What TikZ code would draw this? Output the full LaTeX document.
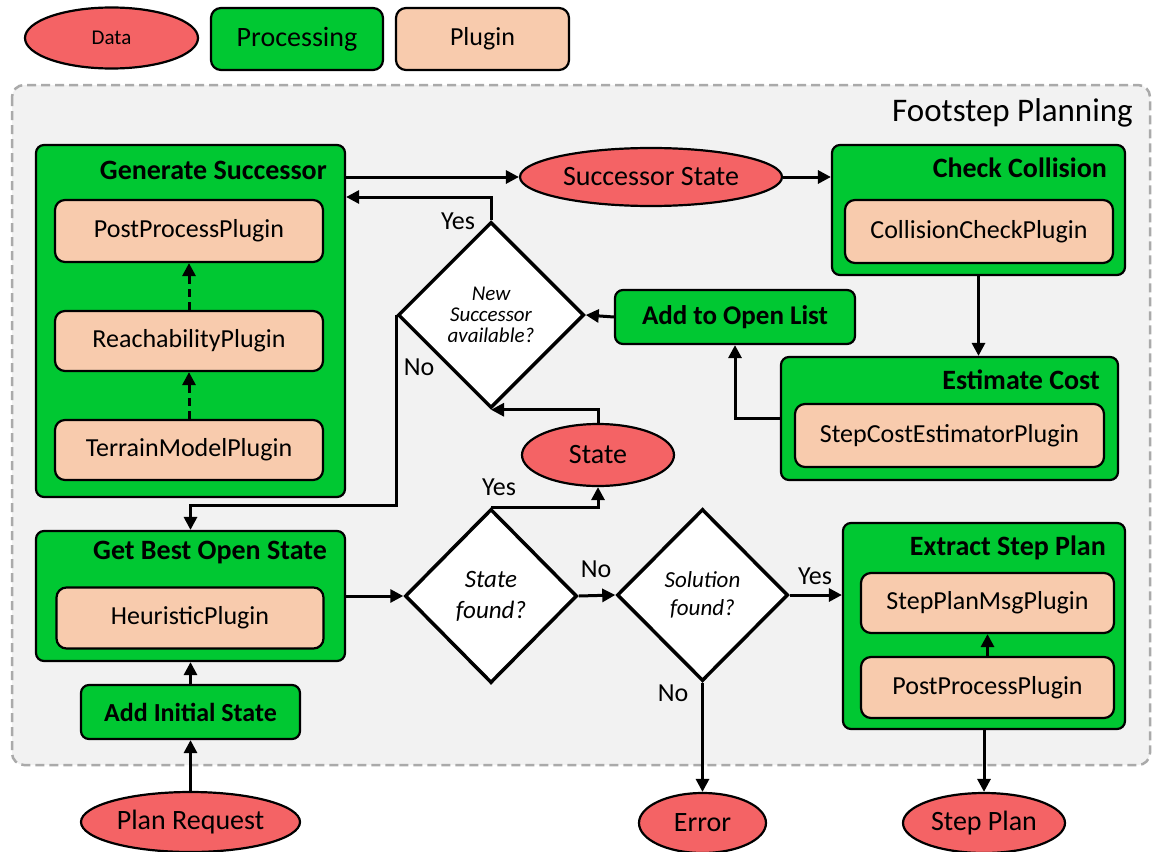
\documentclass[tikz,border=0pt]{standalone}
\usepackage{fontspec}
\setmainfont{Carlito}
\usetikzlibrary{shapes.geometric,arrows.meta}
\definecolor{pgreen}{RGB}{0,200,50}
\definecolor{peach}{RGB}{248,203,173}
\definecolor{dred}{RGB}{244,99,101}
\definecolor{bggray}{RGB}{242,242,242}
\definecolor{dashgray}{RGB}{170,170,170}
\begin{document}
\begin{tikzpicture}[x=1pt,y=-1pt,
  proc/.style={draw=black, fill=pgreen, line width=2.2pt, rounded corners=8pt, inner sep=0pt},
  plug/.style={draw=black, fill=peach, line width=2.2pt, rounded corners=10pt, inner sep=0pt, font=\fontsize{26}{30}\selectfont},
  dat/.style={ellipse, draw=black, fill=dred, line width=2.2pt, inner sep=0pt, font=\fontsize{28}{32}\selectfont},
  dec/.style={diamond, draw=black, fill=white, line width=3.5pt, inner sep=0pt, align=center},
  ttl/.style={anchor=east, font=\bfseries\fontsize{28}{32}\selectfont, inner sep=0pt},
  lab/.style={font=\fontsize{26}{30}\selectfont, inner sep=0pt},
  arr/.style={line width=3pt, -{Triangle[length=13pt,width=13pt]}},
  darr/.style={arr, dash pattern=on 8pt off 5pt},
]
\useasboundingbox (0,0) rectangle (1153,851);
% outer region
\draw[fill=bggray, draw=dashgray, line width=2.5pt, dash pattern=on 9pt off 5pt, rounded corners=12pt] (12,85) rectangle (1150,765);
\node[anchor=east, inner sep=0pt, font=\fontsize{33}{38}\selectfont] (fp) at (1133,113) {Footstep Planning};

% legend
\node[dat, minimum width=173pt, minimum height=61pt, font=\fontsize{21}{24}\selectfont] (ldata) at (111.5,38) {Data};
\node[proc, rounded corners=10pt, minimum width=172pt, minimum height=62pt, font=\fontsize{28}{32}\selectfont] (lproc) at (297,39) {Processing};
\node[plug, minimum width=173pt, minimum height=62pt] (lplug) at (482.5,39) {Plugin};

% Generate Successor
\node[proc, minimum width=309pt, minimum height=352pt] (gs) at (190.5,321) {};
\node[ttl] (gst) at (327,170) {Generate Successor};
\node[plug, minimum width=268pt, minimum height=62pt] (pp1) at (189,231) {PostProcessPlugin};
\node[plug, minimum width=268pt, minimum height=60pt] (rp) at (189,341) {ReachabilityPlugin};
\node[plug, minimum width=268pt, minimum height=60pt] (tm) at (189,450) {TerrainModelPlugin};
\draw[darr] (tm.north) -- (rp.south);
\draw[darr] (rp.north) -- (pp1.south);

% Successor state
\node[dat, minimum width=262pt, minimum height=58pt] (ss) at (651,177) {Successor State};

% Check Collision
\node[proc, minimum width=293pt, minimum height=130pt] (cc) at (978.5,210) {};
\node[ttl] (cct) at (1107,168) {Check Collision};
\node[plug, minimum width=268pt, minimum height=63pt] (ccp) at (979,231.5) {CollisionCheckPlugin};

% Estimate Cost
\node[proc, minimum width=337pt, minimum height=123pt] (ec) at (949.5,418.5) {};
\node[ttl] (ect) at (1100,380) {Estimate Cost};
\node[plug, minimum width=309pt, minimum height=63pt] (ecp) at (949.5,435.5) {StepCostEstimatorPlugin};

% Add to Open List
\node[proc, minimum width=240pt, minimum height=54pt, font=\bfseries\fontsize{27}{31}\selectfont] (aol) at (735,317) {Add to Open List};

% New successor diamond
\node[dec, minimum width=186pt, minimum height=186pt, font=\itshape\fontsize{21}{21}\selectfont] (ns) at (491,315) {New\\Successor\\available?};

% State
\node[dat, minimum width=152pt, minimum height=62pt] (st) at (598,455) {State};

% Get Best Open State
\node[proc, minimum width=309pt, minimum height=130pt] (gb) at (190.5,596) {};
\node[ttl] (gbt) at (327,553) {Get Best Open State};
\node[plug, minimum width=267pt, minimum height=61pt] (hp) at (190,618) {HeuristicPlugin};

% Add Initial State
\node[proc, minimum width=219pt, minimum height=54pt, font=\bfseries\fontsize{26}{30}\selectfont] (ai) at (190.5,712) {Add Initial State};

% Plan Request
\node[dat, minimum width=219pt, minimum height=60pt] (pr) at (190.5,822) {Plan Request};

% State found
\node[dec, minimum width=172pt, minimum height=174pt, font=\itshape\fontsize{25}{31}\selectfont] (sf) at (491,596) {State\\found?};

% Solution found
\node[dec, minimum width=171pt, minimum height=172pt, font=\itshape\fontsize{23}{28}\selectfont] (sol) at (702.5,595) {Solution\\found?};

% Extract Step Plan
\node[proc, minimum width=282pt, minimum height=206pt] (ex) at (984,626) {};
\node[ttl] (ext) at (1106,548) {Extract Step Plan};
\node[plug, minimum width=253pt, minimum height=60pt] (spm) at (987.5,603) {StepPlanMsgPlugin};
\node[plug, minimum width=253pt, minimum height=61pt] (pp2) at (987.5,687.5) {PostProcessPlugin};
\draw[arr] (pp2.north) -- (spm.south);

% Error, Step Plan
\node[dat, minimum width=127pt, minimum height=60pt] (err) at (702.5,823) {Error};
\node[dat, minimum width=162pt, minimum height=60pt] (sp) at (984,823) {Step Plan};

% connectors
\draw[arr] ([yshift=144pt]gs.east) -- (ss.west);
\draw[arr] (ss.east) -- (cc.west |- ss.east);
\draw[arr] (cc.south) -- (cc.south |- ec.north);
\draw[arr] (ec.west) -| (aol.south);
\draw[arr] (aol.west) -- (ns.east);
\draw[arr] (ns.north) |- ([yshift=124pt]gs.east);
\draw[arr] (ns.west) -- ++(0,190) -| (gb.north);
\draw[arr] (st.north) |- (ns.south);
\draw[arr] (gb.east |- sf.west) -- (sf.west);
\draw[arr] (sf.north) -| (st.south);
\draw[arr] (sf.east) -- (sol.west);
\draw[arr] (sol.east) -- (ex.west |- sol.east);
\draw[arr] (sol.south) -- (err.north);
\draw[arr] (ex.south) -- (sp.north);
\draw[arr] (ai.north) -- (gb.south);
\draw[arr] (pr.north) -- (ai.south);

% labels
\node[lab] (y1) at (458,221) {Yes};
\node[lab] (n1) at (419,367) {No};
\node[lab] (y2) at (499,487) {Yes};
\node[lab] (n2) at (596,569) {No};
\node[lab] (y3) at (815,576) {Yes};
\node[lab] (n3) at (673,693) {No};
\end{tikzpicture}
\end{document}
